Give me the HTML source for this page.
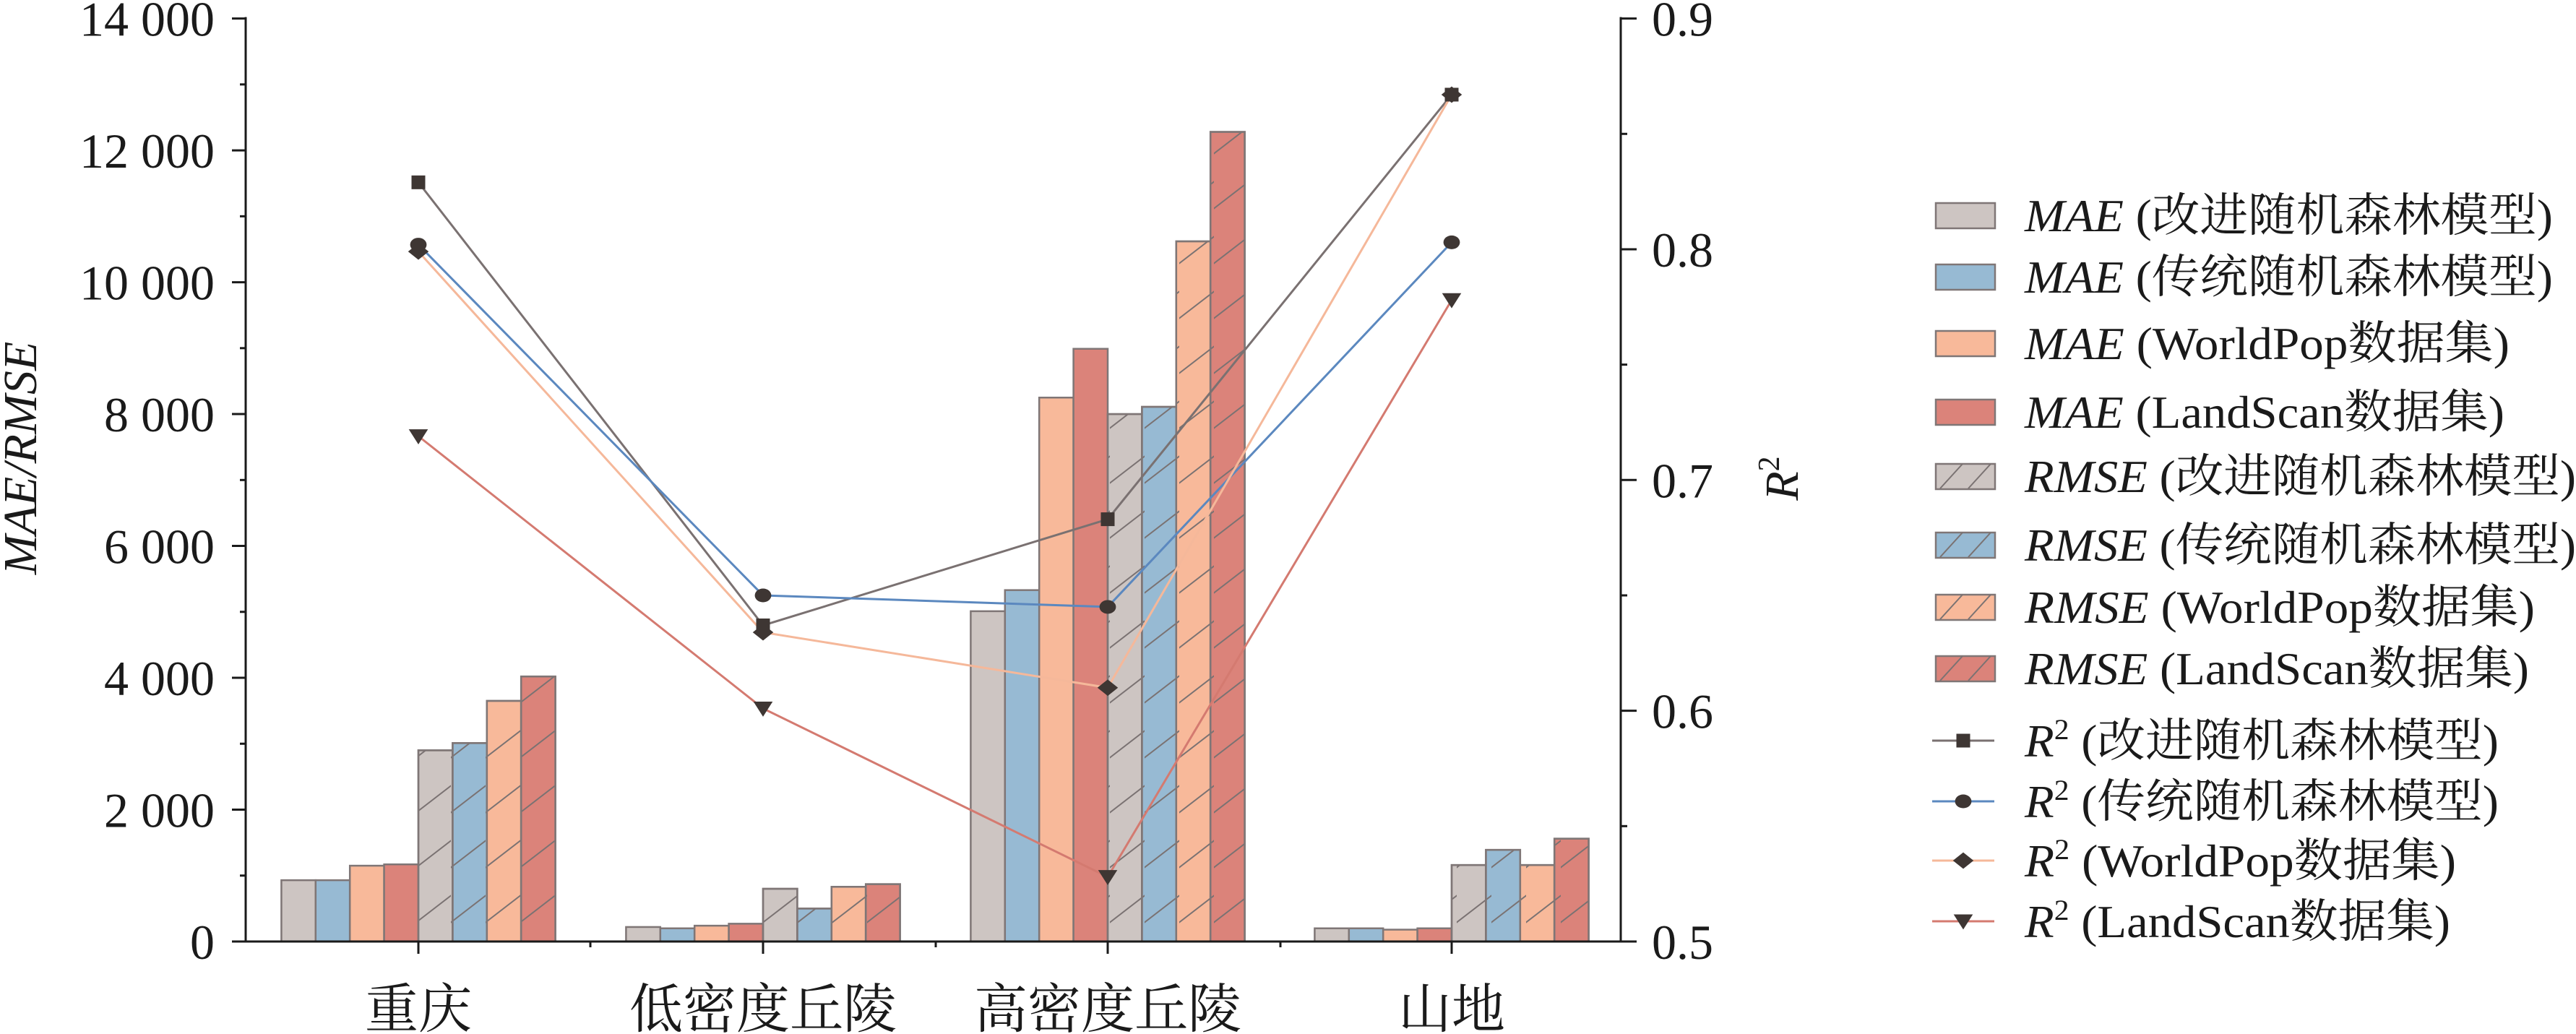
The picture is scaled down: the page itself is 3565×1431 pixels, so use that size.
<!DOCTYPE html>
<html><head><meta charset="utf-8"><style>
html,body{margin:0;padding:0;background:#fff;}
svg{display:block;}
text{font-family:"Liberation Serif","Noto Serif CJK SC",serif;fill:#1a1a1a;}
</style></head><body>
<svg width="3565" height="1431" viewBox="0 0 3565 1431" xmlns="http://www.w3.org/2000/svg">
<defs>
<pattern id="h" patternUnits="userSpaceOnUse" width="48" height="76">
<line x1="-2" y1="62" x2="50" y2="22" stroke="#7a7272" stroke-width="2"/>
<line x1="-2" y1="138" x2="50" y2="98" stroke="#7a7272" stroke-width="2"/>
<line x1="-2" y1="-14" x2="50" y2="-54" stroke="#7a7272" stroke-width="2"/>
</pattern>
</defs>
<g id="bars" stroke="#7f7676" stroke-width="2.5"></g>
<g id="lines"></g>
<g id="axes" stroke="#1a1a1a" stroke-width="3" fill="none"></g>
<g id="labels" font-size="68"></g>

<text x="0" y="0" font-size="66" font-style="italic" text-anchor="middle" transform="translate(50,634) rotate(-90)">MAE/RMSE</text>
<text x="0" y="0" font-size="66" font-style="italic" text-anchor="middle" transform="translate(2488,662) rotate(-90)">R<tspan font-size="42" dy="-26" font-style="normal">2</tspan></text>

<g id="legend"></g>
<script>
const NS="http://www.w3.org/2000/svg";
function el(p,t,a,txt){const e=document.createElementNS(NS,t);for(const k in a)e.setAttribute(k,a[k]);if(txt!==undefined)e.textContent=txt;document.getElementById(p).appendChild(e);return e;}
const y0=1303,yT=25.6,ppu=(y0-yT)/14000;
const Y=v=>y0-v*ppu;
const R=r=>y0-(r-0.5)/0.4*(y0-yT);
const cats=[579,1056,1533,2009];
const cols=["#cdc5c2","#97bad3","#f8b99a","#db837a"];
const data=[
[930,930,1150,1170,2900,3010,3650,4020],
[220,200,240,270,800,500,830,870],
[5010,5330,8250,8990,8000,8110,10620,12280],
[200,200,180,200,1160,1390,1160,1560]];
const bw=47.4;
data.forEach((d,ci)=>{d.forEach((v,i)=>{const x=cats[ci]-4*bw+i*bw;
el("bars","rect",{x:x,y:Y(v),width:bw,height:y0-Y(v),fill:cols[i%4]});
if(i>=4)el("bars","rect",{x:x,y:Y(v),width:bw,height:y0-Y(v),fill:"url(#h)"});});});
const r2=[[0.829,0.637,0.683,0.867],[0.802,0.650,0.645,0.803],[0.799,0.634,0.610,0.867],[0.719,0.601,0.528,0.778]];
const lc=["#7a7171","#5b88bf","#f5b89a","#d47a70"];
const mk="#3e3633";
function marker(g,t,x,y,s){
 if(t==0)el(g,"rect",{x:x-s/2,y:y-s/2,width:s,height:s,fill:mk});
 else if(t==1)el(g,"ellipse",{cx:x,cy:y,rx:s*0.6,ry:s*0.5,fill:mk});
 else if(t==2)el(g,"polygon",{points:`${x},${y-s*0.6} ${x+s*0.75},${y} ${x},${y+s*0.6} ${x-s*0.75},${y}`,fill:mk});
 else el(g,"polygon",{points:`${x-s*0.7},${y-s*0.5} ${x+s*0.7},${y-s*0.5} ${x},${y+s*0.6}`,fill:mk});
}
r2.forEach((d,k)=>{el("lines","polyline",{points:d.map((r,i)=>cats[i]+","+R(r)).join(" "),fill:"none",stroke:lc[k],"stroke-width":3});});
r2.forEach((d,k)=>{d.forEach((r,i)=>marker("lines",k,cats[i],R(r),19));});
el("axes","line",{x1:340,y1:yT-2,x2:340,y2:y0});
el("axes","line",{x1:2243,y1:yT-2,x2:2243,y2:y0});
el("axes","line",{x1:321,y1:y0,x2:2265,y2:y0});
for(let v=0;v<=14000;v+=1000){const y=Y(v);el("axes","line",{x1:v%2000==0?321:332,y1:y,x2:340,y2:y});}
for(let r=0.5;r<=0.9001;r+=0.05){const y=R(r);const maj=Math.abs(r*10-Math.round(r*10))<1e-6;el("axes","line",{x1:2243,y1:y,x2:maj?2265:2252,y2:y});}
cats.forEach(c=>el("axes","line",{x1:c,y1:y0,x2:c,y2:1320}));
[817,1295,1772].forEach(c=>el("axes","line",{x1:c,y1:y0,x2:c,y2:1311}));
for(let v=0;v<=14000;v+=2000){el("labels","text",{x:297,y:Y(v)+24,"text-anchor":"end"},v==0?"0":(v/1000)+" 000");}
for(let i=0;i<=4;i++){el("labels","text",{x:2286,y:R(0.5+i*0.1)+24},(0.5+i*0.1).toFixed(1));}
["重庆","低密度丘陵","高密度丘陵","山地"].forEach((s,i)=>el("labels","text",{x:cats[i],y:1422,"text-anchor":"middle","font-size":74},s));
const lab=["(改进随机森林模型)","(传统随机森林模型)","(WorldPop数据集)","(LandScan数据集)"];
const rows=[298,383,475,570,659,754,840,925,1025,1109,1191,1275];
const wid=[731,731,671,664,763,763,706,698,656,656,597,589];
for(let i=0;i<8;i++){const y=rows[i];
 el("legend","rect",{x:2679,y:y-17,width:82,height:35,fill:cols[i%4],stroke:"#7f7676","stroke-width":2.5});
 if(i>=4){el("legend","line",{x1:2685,y1:y+17,x2:2716,y2:y-17,stroke:"#7a7272","stroke-width":2});el("legend","line",{x1:2724,y1:y+17,x2:2755,y2:y-17,stroke:"#7a7272","stroke-width":2});}
 const t=el("legend","text",{x:2802,y:y+22,"font-size":64,textLength:wid[i],lengthAdjust:"spacingAndGlyphs"});
 const a=document.createElementNS(NS,"tspan");a.setAttribute("font-style","italic");a.textContent=i<4?"MAE":"RMSE";t.appendChild(a);
 t.appendChild(document.createTextNode(" "+lab[i%4]));
}
for(let k=0;k<4;k++){const y=rows[8+k];
 el("legend","line",{x1:2674,y1:y,x2:2760,y2:y,stroke:lc[k],"stroke-width":3});
 marker("legend",k,2717,y,19);
 const t=el("legend","text",{x:2802,y:y+22,"font-size":64,textLength:wid[8+k],lengthAdjust:"spacingAndGlyphs"});
 const a=document.createElementNS(NS,"tspan");a.setAttribute("font-style","italic");a.textContent="R";t.appendChild(a);
 const b=document.createElementNS(NS,"tspan");b.setAttribute("font-size","40");b.setAttribute("dy","-24");b.textContent="2";t.appendChild(b);
 const c=document.createElementNS(NS,"tspan");c.setAttribute("dy","24");c.textContent=" "+lab[k];t.appendChild(c);
}
</script>
</svg>
</body></html>
